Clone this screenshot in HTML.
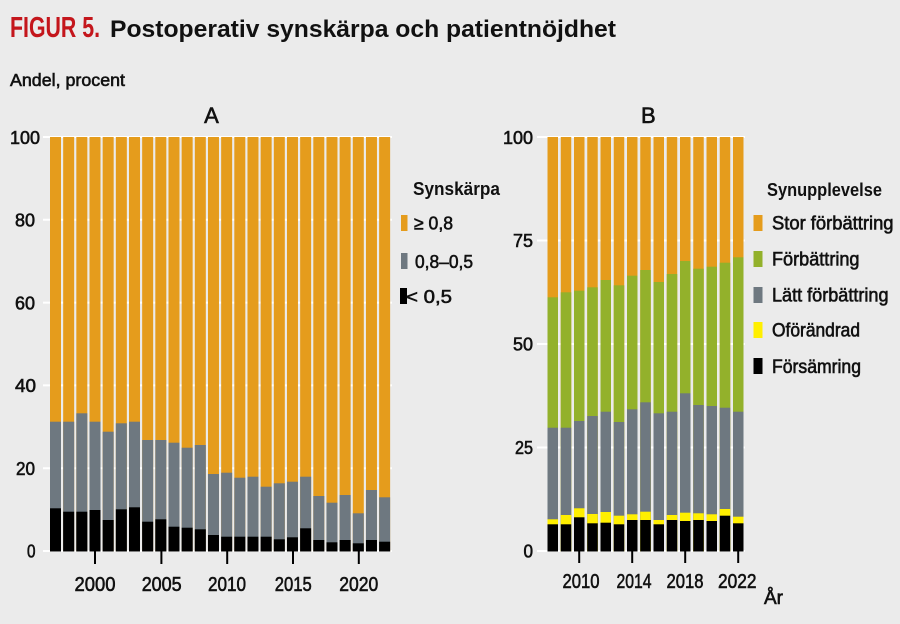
<!DOCTYPE html>
<html><head><meta charset="utf-8">
<style>
html,body{margin:0;padding:0;background:#ebebeb;}
svg{display:block;}
text{font-family:"Liberation Sans",sans-serif;fill:#111;}
.m{stroke:#111;stroke-width:0.6;}
</style></head>
<body>
<svg width="900" height="624" viewBox="0 0 900 624" xmlns="http://www.w3.org/2000/svg">
<rect width="900" height="624" fill="#ebebeb"/>

<!-- Title -->
<text x="10" y="37" font-size="29" font-weight="bold" style="fill:#c4161c" textLength="90" lengthAdjust="spacingAndGlyphs">FIGUR 5.</text>
<text x="110" y="37" font-size="24" font-weight="bold" textLength="506" lengthAdjust="spacingAndGlyphs">Postoperativ synskärpa och patientnöjdhet</text>
<text class="m" x="10" y="86" font-size="17.5" textLength="115" lengthAdjust="spacingAndGlyphs">Andel, procent</text>

<text class="m" x="211.5" y="123" font-size="22" text-anchor="middle">A</text>
<text class="m" x="648.3" y="123" font-size="22" text-anchor="middle">B</text>

<!-- Panel A gridlines -->
<g stroke="#ffffff" stroke-width="2">
<line x1="43" x2="392" y1="137" y2="137"/>
<line x1="43" x2="392" y1="219.8" y2="219.8"/>
<line x1="43" x2="392" y1="302.6" y2="302.6"/>
<line x1="43" x2="392" y1="385.4" y2="385.4"/>
<line x1="43" x2="392" y1="468.2" y2="468.2"/>
<line x1="43" x2="392" y1="551" y2="551"/>
</g>
<!-- Panel B gridlines -->
<g stroke="#ffffff" stroke-width="2">
<line x1="537" x2="745" y1="137" y2="137"/>
<line x1="537" x2="745" y1="240.5" y2="240.5"/>
<line x1="537" x2="745" y1="344" y2="344"/>
<line x1="537" x2="745" y1="447.5" y2="447.5"/>
<line x1="537" x2="745" y1="551" y2="551"/>
</g>

<!-- Panel A y labels -->
<g font-size="18">
<text class="m" x="10" y="144" textLength="30" lengthAdjust="spacingAndGlyphs">100</text>
<text class="m" x="15" y="226.5" textLength="20" lengthAdjust="spacingAndGlyphs">80</text>
<text class="m" x="15" y="309.5" textLength="20" lengthAdjust="spacingAndGlyphs">60</text>
<text class="m" x="15" y="392" textLength="21" lengthAdjust="spacingAndGlyphs">40</text>
<text class="m" x="16" y="475" textLength="19" lengthAdjust="spacingAndGlyphs">20</text>
<text class="m" x="27" y="557.5" textLength="8.5" lengthAdjust="spacingAndGlyphs">0</text>
</g>
<!-- Panel B y labels -->
<g font-size="18">
<text class="m" x="503" y="144" textLength="30" lengthAdjust="spacingAndGlyphs">100</text>
<text class="m" x="513" y="247" textLength="20" lengthAdjust="spacingAndGlyphs">75</text>
<text class="m" x="513" y="350.5" textLength="20" lengthAdjust="spacingAndGlyphs">50</text>
<text class="m" x="515" y="454" textLength="18" lengthAdjust="spacingAndGlyphs">25</text>
<text class="m" x="523.5" y="557.5" textLength="9.5" lengthAdjust="spacingAndGlyphs">0</text>
</g>

<!-- Panel A bars -->
<g>
<rect x="50" y="137" width="11" height="414.5" fill="#e59c1c"/><rect x="50" y="421.7" width="11" height="129.8" fill="#6e7880"/><rect x="50" y="508.3" width="11" height="43.2" fill="#000"/>
<rect x="63.17" y="137" width="11" height="414.5" fill="#e59c1c"/><rect x="63.17" y="421.7" width="11" height="129.8" fill="#6e7880"/><rect x="63.17" y="511.7" width="11" height="39.8" fill="#000"/>
<rect x="76.33" y="137" width="11" height="414.5" fill="#e59c1c"/><rect x="76.33" y="413.3" width="11" height="138.2" fill="#6e7880"/><rect x="76.33" y="511.7" width="11" height="39.8" fill="#000"/>
<rect x="89.5" y="137" width="11" height="414.5" fill="#e59c1c"/><rect x="89.5" y="421.7" width="11" height="129.8" fill="#6e7880"/><rect x="89.5" y="510" width="11" height="41.5" fill="#000"/>
<rect x="102.66" y="137" width="11" height="414.5" fill="#e59c1c"/><rect x="102.66" y="431.7" width="11" height="119.8" fill="#6e7880"/><rect x="102.66" y="520" width="11" height="31.5" fill="#000"/>
<rect x="115.83" y="137" width="11" height="414.5" fill="#e59c1c"/><rect x="115.83" y="423.3" width="11" height="128.2" fill="#6e7880"/><rect x="115.83" y="509.3" width="11" height="42.2" fill="#000"/>
<rect x="128.99" y="137" width="11" height="414.5" fill="#e59c1c"/><rect x="128.99" y="421.7" width="11" height="129.8" fill="#6e7880"/><rect x="128.99" y="507.3" width="11" height="44.2" fill="#000"/>
<rect x="142.16" y="137" width="11" height="414.5" fill="#e59c1c"/><rect x="142.16" y="440" width="11" height="111.5" fill="#6e7880"/><rect x="142.16" y="521.7" width="11" height="29.8" fill="#000"/>
<rect x="155.32" y="137" width="11" height="414.5" fill="#e59c1c"/><rect x="155.32" y="440" width="11" height="111.5" fill="#6e7880"/><rect x="155.32" y="519.3" width="11" height="32.2" fill="#000"/>
<rect x="168.49" y="137" width="11" height="414.5" fill="#e59c1c"/><rect x="168.49" y="442.7" width="11" height="108.8" fill="#6e7880"/><rect x="168.49" y="526.7" width="11" height="24.8" fill="#000"/>
<rect x="181.65" y="137" width="11" height="414.5" fill="#e59c1c"/><rect x="181.65" y="447.7" width="11" height="103.8" fill="#6e7880"/><rect x="181.65" y="527.7" width="11" height="23.8" fill="#000"/>
<rect x="194.82" y="137" width="11" height="414.5" fill="#e59c1c"/><rect x="194.82" y="445" width="11" height="106.5" fill="#6e7880"/><rect x="194.82" y="529.3" width="11" height="22.2" fill="#000"/>
<rect x="207.98" y="137" width="11" height="414.5" fill="#e59c1c"/><rect x="207.98" y="474" width="11" height="77.5" fill="#6e7880"/><rect x="207.98" y="535" width="11" height="16.5" fill="#000"/>
<rect x="221.15" y="137" width="11" height="414.5" fill="#e59c1c"/><rect x="221.15" y="472.7" width="11" height="78.8" fill="#6e7880"/><rect x="221.15" y="536.7" width="11" height="14.8" fill="#000"/>
<rect x="234.31" y="137" width="11" height="414.5" fill="#e59c1c"/><rect x="234.31" y="477.7" width="11" height="73.8" fill="#6e7880"/><rect x="234.31" y="536.7" width="11" height="14.8" fill="#000"/>
<rect x="247.48" y="137" width="11" height="414.5" fill="#e59c1c"/><rect x="247.48" y="476.7" width="11" height="74.8" fill="#6e7880"/><rect x="247.48" y="536.7" width="11" height="14.8" fill="#000"/>
<rect x="260.64" y="137" width="11" height="414.5" fill="#e59c1c"/><rect x="260.64" y="486.7" width="11" height="64.8" fill="#6e7880"/><rect x="260.64" y="536.7" width="11" height="14.8" fill="#000"/>
<rect x="273.81" y="137" width="11" height="414.5" fill="#e59c1c"/><rect x="273.81" y="483.3" width="11" height="68.2" fill="#6e7880"/><rect x="273.81" y="539.3" width="11" height="12.2" fill="#000"/>
<rect x="286.97" y="137" width="11" height="414.5" fill="#e59c1c"/><rect x="286.97" y="481.7" width="11" height="69.8" fill="#6e7880"/><rect x="286.97" y="537.3" width="11" height="14.2" fill="#000"/>
<rect x="300.14" y="137" width="11" height="414.5" fill="#e59c1c"/><rect x="300.14" y="476.7" width="11" height="74.8" fill="#6e7880"/><rect x="300.14" y="528.3" width="11" height="23.2" fill="#000"/>
<rect x="313.3" y="137" width="11" height="414.5" fill="#e59c1c"/><rect x="313.3" y="496" width="11" height="55.5" fill="#6e7880"/><rect x="313.3" y="540" width="11" height="11.5" fill="#000"/>
<rect x="326.47" y="137" width="11" height="414.5" fill="#e59c1c"/><rect x="326.47" y="502.7" width="11" height="48.8" fill="#6e7880"/><rect x="326.47" y="542.3" width="11" height="9.2" fill="#000"/>
<rect x="339.63" y="137" width="11" height="414.5" fill="#e59c1c"/><rect x="339.63" y="495" width="11" height="56.5" fill="#6e7880"/><rect x="339.63" y="540" width="11" height="11.5" fill="#000"/>
<rect x="352.8" y="137" width="11" height="414.5" fill="#e59c1c"/><rect x="352.8" y="513.3" width="11" height="38.2" fill="#6e7880"/><rect x="352.8" y="543.3" width="11" height="8.2" fill="#000"/>
<rect x="365.96" y="137" width="11" height="414.5" fill="#e59c1c"/><rect x="365.96" y="490" width="11" height="61.5" fill="#6e7880"/><rect x="365.96" y="540" width="11" height="11.5" fill="#000"/>
<rect x="379.13" y="137" width="11" height="414.5" fill="#e59c1c"/><rect x="379.13" y="497.3" width="11" height="54.2" fill="#6e7880"/><rect x="379.13" y="541.7" width="11" height="9.8" fill="#000"/>
</g>

<!-- Panel B bars -->
<g>
<rect x="547.5" y="137" width="10.5" height="414.5" fill="#e59c1c"/><rect x="547.5" y="297.3" width="10.5" height="254.2" fill="#93b12b"/><rect x="547.5" y="427.7" width="10.5" height="123.8" fill="#6e7880"/><rect x="547.5" y="519.3" width="10.5" height="32.2" fill="#ffef00"/><rect x="547.5" y="524.3" width="10.5" height="27.2" fill="#000"/>
<rect x="560.75" y="137" width="10.5" height="414.5" fill="#e59c1c"/><rect x="560.75" y="292.3" width="10.5" height="259.2" fill="#93b12b"/><rect x="560.75" y="427.7" width="10.5" height="123.8" fill="#6e7880"/><rect x="560.75" y="515" width="10.5" height="36.5" fill="#ffef00"/><rect x="560.75" y="524.3" width="10.5" height="27.2" fill="#000"/>
<rect x="574" y="137" width="10.5" height="414.5" fill="#e59c1c"/><rect x="574" y="290.7" width="10.5" height="260.8" fill="#93b12b"/><rect x="574" y="421" width="10.5" height="130.5" fill="#6e7880"/><rect x="574" y="508.3" width="10.5" height="43.2" fill="#ffef00"/><rect x="574" y="517.3" width="10.5" height="34.2" fill="#000"/>
<rect x="587.25" y="137" width="10.5" height="414.5" fill="#e59c1c"/><rect x="587.25" y="287.3" width="10.5" height="264.2" fill="#93b12b"/><rect x="587.25" y="416" width="10.5" height="135.5" fill="#6e7880"/><rect x="587.25" y="514" width="10.5" height="37.5" fill="#ffef00"/><rect x="587.25" y="523.3" width="10.5" height="28.2" fill="#000"/>
<rect x="600.5" y="137" width="10.5" height="414.5" fill="#e59c1c"/><rect x="600.5" y="280" width="10.5" height="271.5" fill="#93b12b"/><rect x="600.5" y="411.7" width="10.5" height="139.8" fill="#6e7880"/><rect x="600.5" y="512" width="10.5" height="39.5" fill="#ffef00"/><rect x="600.5" y="522.7" width="10.5" height="28.8" fill="#000"/>
<rect x="613.75" y="137" width="10.5" height="414.5" fill="#e59c1c"/><rect x="613.75" y="285.3" width="10.5" height="266.2" fill="#93b12b"/><rect x="613.75" y="422" width="10.5" height="129.5" fill="#6e7880"/><rect x="613.75" y="515.7" width="10.5" height="35.8" fill="#ffef00"/><rect x="613.75" y="524.3" width="10.5" height="27.2" fill="#000"/>
<rect x="627" y="137" width="10.5" height="414.5" fill="#e59c1c"/><rect x="627" y="275.7" width="10.5" height="275.8" fill="#93b12b"/><rect x="627" y="409.3" width="10.5" height="142.2" fill="#6e7880"/><rect x="627" y="514.3" width="10.5" height="37.2" fill="#ffef00"/><rect x="627" y="520" width="10.5" height="31.5" fill="#000"/>
<rect x="640.25" y="137" width="10.5" height="414.5" fill="#e59c1c"/><rect x="640.25" y="270" width="10.5" height="281.5" fill="#93b12b"/><rect x="640.25" y="402.3" width="10.5" height="149.2" fill="#6e7880"/><rect x="640.25" y="511.7" width="10.5" height="39.8" fill="#ffef00"/><rect x="640.25" y="520" width="10.5" height="31.5" fill="#000"/>
<rect x="653.5" y="137" width="10.5" height="414.5" fill="#e59c1c"/><rect x="653.5" y="282" width="10.5" height="269.5" fill="#93b12b"/><rect x="653.5" y="413.3" width="10.5" height="138.2" fill="#6e7880"/><rect x="653.5" y="520" width="10.5" height="31.5" fill="#ffef00"/><rect x="653.5" y="524.3" width="10.5" height="27.2" fill="#000"/>
<rect x="666.75" y="137" width="10.5" height="414.5" fill="#e59c1c"/><rect x="666.75" y="274" width="10.5" height="277.5" fill="#93b12b"/><rect x="666.75" y="411.7" width="10.5" height="139.8" fill="#6e7880"/><rect x="666.75" y="515" width="10.5" height="36.5" fill="#ffef00"/><rect x="666.75" y="520" width="10.5" height="31.5" fill="#000"/>
<rect x="680" y="137" width="10.5" height="414.5" fill="#e59c1c"/><rect x="680" y="261" width="10.5" height="290.5" fill="#93b12b"/><rect x="680" y="393.3" width="10.5" height="158.2" fill="#6e7880"/><rect x="680" y="512.7" width="10.5" height="38.8" fill="#ffef00"/><rect x="680" y="521" width="10.5" height="30.5" fill="#000"/>
<rect x="693.25" y="137" width="10.5" height="414.5" fill="#e59c1c"/><rect x="693.25" y="268.7" width="10.5" height="282.8" fill="#93b12b"/><rect x="693.25" y="405" width="10.5" height="146.5" fill="#6e7880"/><rect x="693.25" y="513.3" width="10.5" height="38.2" fill="#ffef00"/><rect x="693.25" y="520" width="10.5" height="31.5" fill="#000"/>
<rect x="706.5" y="137" width="10.5" height="414.5" fill="#e59c1c"/><rect x="706.5" y="266.7" width="10.5" height="284.8" fill="#93b12b"/><rect x="706.5" y="406" width="10.5" height="145.5" fill="#6e7880"/><rect x="706.5" y="514.3" width="10.5" height="37.2" fill="#ffef00"/><rect x="706.5" y="521" width="10.5" height="30.5" fill="#000"/>
<rect x="719.75" y="137" width="10.5" height="414.5" fill="#e59c1c"/><rect x="719.75" y="262.7" width="10.5" height="288.8" fill="#93b12b"/><rect x="719.75" y="407.7" width="10.5" height="143.8" fill="#6e7880"/><rect x="719.75" y="509" width="10.5" height="42.5" fill="#ffef00"/><rect x="719.75" y="515.7" width="10.5" height="35.8" fill="#000"/>
<rect x="733" y="137" width="10.5" height="414.5" fill="#e59c1c"/><rect x="733" y="257.3" width="10.5" height="294.2" fill="#93b12b"/><rect x="733" y="411.7" width="10.5" height="139.8" fill="#6e7880"/><rect x="733" y="516.7" width="10.5" height="34.8" fill="#ffef00"/><rect x="733" y="523.3" width="10.5" height="28.2" fill="#000"/>
</g>

<!-- x ticks -->
<g stroke="#000" stroke-width="2">
<line x1="95" x2="95" y1="551" y2="564"/>
<line x1="161.4" x2="161.4" y1="551" y2="564"/>
<line x1="227.2" x2="227.2" y1="551" y2="564"/>
<line x1="293" x2="293" y1="551" y2="564"/>
<line x1="358.8" x2="358.8" y1="551" y2="564"/>
<line x1="579.2" x2="579.2" y1="551" y2="563"/>
<line x1="632.2" x2="632.2" y1="551" y2="563"/>
<line x1="685.2" x2="685.2" y1="551" y2="563"/>
<line x1="738.2" x2="738.2" y1="551" y2="563"/>
</g>

<!-- x labels -->
<g font-size="20" text-anchor="middle">
<text class="m" x="95" y="591" textLength="41" lengthAdjust="spacingAndGlyphs">2000</text>
<text class="m" x="161.7" y="591" textLength="40" lengthAdjust="spacingAndGlyphs">2005</text>
<text class="m" x="227" y="591" textLength="38" lengthAdjust="spacingAndGlyphs">2010</text>
<text class="m" x="293.3" y="591" textLength="37" lengthAdjust="spacingAndGlyphs">2015</text>
<text class="m" x="358.8" y="591" textLength="39" lengthAdjust="spacingAndGlyphs">2020</text>
<text class="m" x="581" y="588" textLength="37" lengthAdjust="spacingAndGlyphs">2010</text>
<text class="m" x="634" y="588" textLength="35" lengthAdjust="spacingAndGlyphs">2014</text>
<text class="m" x="685" y="588" textLength="37" lengthAdjust="spacingAndGlyphs">2018</text>
<text class="m" x="737.3" y="588" textLength="38.5" lengthAdjust="spacingAndGlyphs">2022</text>
</g>
<text class="m" x="764" y="604" font-size="19" textLength="19" lengthAdjust="spacingAndGlyphs">År</text>

<!-- Legend A -->
<text x="413" y="195" font-size="18" font-weight="bold" textLength="87" lengthAdjust="spacingAndGlyphs">Synskärpa</text>
<rect x="401" y="215" width="6.5" height="16" fill="#e59c1c"/>
<rect x="401" y="253" width="6.5" height="16" fill="#6e7880"/>
<rect x="400" y="288" width="7" height="16" fill="#000"/>
<g font-size="18.5">
<text class="m" x="414" y="229.5" textLength="39" lengthAdjust="spacingAndGlyphs">≥ 0,8</text>
<text class="m" x="415" y="268" textLength="58" lengthAdjust="spacingAndGlyphs">0,8–0,5</text>
<text class="m" x="406" y="303" textLength="46" lengthAdjust="spacingAndGlyphs">&lt; 0,5</text>
</g>

<!-- Legend B -->
<text x="767" y="196" font-size="18" font-weight="bold" textLength="115" lengthAdjust="spacingAndGlyphs">Synupplevelse</text>
<rect x="753.5" y="215" width="9" height="16" fill="#e59c1c"/>
<rect x="753.5" y="251" width="9" height="16" fill="#93b12b"/>
<rect x="753.5" y="287" width="9" height="16" fill="#6e7880"/>
<rect x="753.5" y="322" width="9" height="16" fill="#ffef00"/>
<rect x="753.5" y="358" width="9" height="16" fill="#000"/>
<g font-size="19">
<text class="m" x="772" y="229.5" textLength="121.5" lengthAdjust="spacingAndGlyphs">Stor förbättring</text>
<text class="m" x="772" y="265.5" textLength="87.5" lengthAdjust="spacingAndGlyphs">Förbättring</text>
<text class="m" x="772" y="301.5" textLength="116.5" lengthAdjust="spacingAndGlyphs">Lätt förbättring</text>
<text class="m" x="772" y="336.5" textLength="88" lengthAdjust="spacingAndGlyphs">Oförändrad</text>
<text class="m" x="772" y="373" textLength="89" lengthAdjust="spacingAndGlyphs">Försämring</text>
</g>
</svg>
</body></html>
